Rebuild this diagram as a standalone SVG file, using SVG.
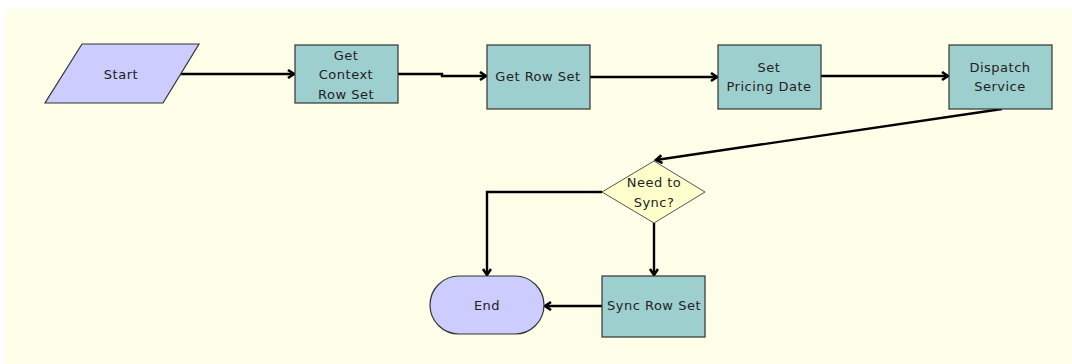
<svg xmlns="http://www.w3.org/2000/svg" width="1072" height="364" viewBox="0 0 1072 364">
<style>
.t{font-family:"DejaVu Sans","Liberation Sans",sans-serif;font-size:13px;fill:#222;text-anchor:middle;letter-spacing:0.5px}
.box{fill:#9ecfcf;stroke:#333;stroke-width:1.2}
.term{fill:#ccccff;stroke:#333;stroke-width:1.2}
.dec{fill:#ffffcc;stroke:#555;stroke-width:1}
.c{fill:none;stroke:#000;stroke-width:2.4}
</style>
<defs>
<marker id="ah" markerUnits="userSpaceOnUse" markerWidth="12" markerHeight="12" refX="8" refY="5" orient="auto">
<path d="M2,1 L8,5 L2,9" fill="none" stroke="#000" stroke-width="2.6"/>
</marker>
</defs>
<rect x="0" y="0" width="1072" height="364" fill="#ffffff"/>
<rect x="6" y="9" width="1066" height="355" fill="#ffffe9"/>
<g id="connectors">
<path class="c" d="M180,74 H294" marker-end="url(#ah)"/>
<path class="c" d="M398,74 H442 V76 H486" marker-end="url(#ah)"/>
<path class="c" d="M590,77 H717" marker-end="url(#ah)"/>
<path class="c" d="M821,76 H948" marker-end="url(#ah)"/>
<path class="c" d="M1002,109 L656,160" marker-end="url(#ah)"/>
<path class="c" d="M602,192 H487 V275" marker-end="url(#ah)"/>
<path class="c" d="M654,223 V275" marker-end="url(#ah)"/>
<path class="c" d="M602,306 H545" marker-end="url(#ah)"/>
</g>
<g id="start">
<polygon class="term" points="82,44 199,44 163,103 45,103"/>
<text class="t" x="121" y="79">Start</text>
</g>
<g id="get-context-row-set">
<rect class="box" x="295" y="45" width="103" height="58"/>
<text class="t" x="346" y="60">Get</text>
<text class="t" x="346" y="79">Context</text>
<text class="t" x="346" y="99">Row Set</text>
</g>
<g id="get-row-set">
<rect class="box" x="487" y="45" width="103" height="64"/>
<text class="t" x="538" y="81">Get Row Set</text>
</g>
<g id="set-pricing-date">
<rect class="box" x="718" y="45" width="103" height="64"/>
<text class="t" x="769" y="72">Set</text>
<text class="t" x="769" y="91">Pricing Date</text>
</g>
<g id="dispatch-service">
<rect class="box" x="949" y="45" width="103" height="64"/>
<text class="t" x="1000" y="72">Dispatch</text>
<text class="t" x="1000" y="91">Service</text>
</g>
<g id="need-to-sync">
<polygon class="dec" points="654,161 705,192 654,223 602,192"/>
<text class="t" x="654" y="187">Need to</text>
<text class="t" x="654" y="207">Sync?</text>
</g>
<g id="end">
<rect class="term" x="430" y="276" width="114" height="58" rx="29" ry="29"/>
<text class="t" x="487" y="310">End</text>
</g>
<g id="sync-row-set">
<rect class="box" x="602" y="276" width="103" height="61"/>
<text class="t" x="654" y="310">Sync Row Set</text>
</g>
</svg>
